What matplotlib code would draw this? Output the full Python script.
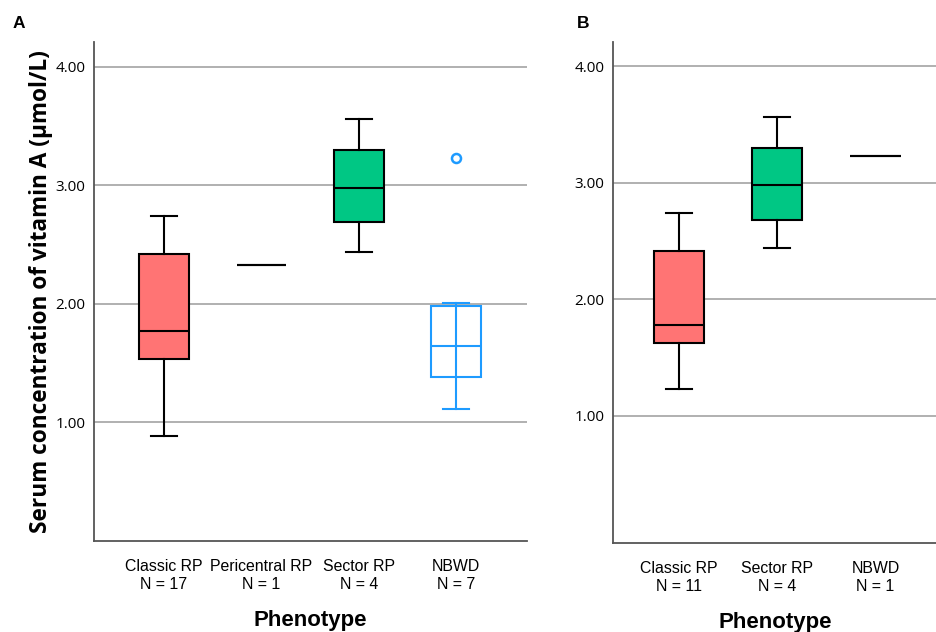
import matplotlib
matplotlib.use("Agg")
import matplotlib.pyplot as plt

# panel A
cats_a = ["Classic RP", "Pericentral RP", "Sector RP", "NBWD"]
n_a = [17, 1, 4, 7]
q1_a = [1.53, 2.33, 2.69, 1.38]
med_a = [1.77, 2.33, 2.98, 1.64]
q3_a = [2.42, 2.33, 3.30, 1.98]
lo_a = [0.88, 2.33, 2.44, 1.11]
hi_a = [2.74, 2.33, 3.56, 2.01]
out_a = [[], [], [], [3.23]]
col_a = ["#FF7474", None, "#00C784", None]
edge_a = ["black", "black", "black", "#1E9BFF"]

# panel B
cats_b = ["Classic RP", "Sector RP", "NBWD"]
n_b = [11, 4, 1]
q1_b = [1.62, 2.68, 3.23]
med_b = [1.78, 2.98, 3.23]
q3_b = [2.41, 3.30, 3.23]
lo_b = [1.23, 2.44, 3.23]
hi_b = [2.74, 3.56, 3.23]
out_b = [[], [], []]
col_b = ["#FF7474", "#00C784", None]
edge_b = ["black", "black", "black"]

yticks = [1.0, 2.0, 3.0, 4.0]

fig = plt.figure(figsize=(9.37, 6.32), dpi=100)
W, H = 937, 632
axA = fig.add_axes([93.7 / W, (H - 540.7) / H, (526.5 - 93.7) / W, (540.7 - 42) / H])
axB = fig.add_axes([613 / W, (H - 542.7) / H, (937 - 613) / W, (542.7 - 41.7) / H])


def draw(ax, cats, n, q1, med, q3, lo, hi, outs, cols, edges):
    stats = []
    for i in range(len(cats)):
        stats.append(dict(q1=q1[i], med=med[i], q3=q3[i], whislo=lo[i],
                          whishi=hi[i], fliers=outs[i], label=cats[i]))
    pos = list(range(1, len(cats) + 1))
    bp = ax.bxp(stats, positions=pos, widths=0.51, patch_artist=True,
                showfliers=True, capwidths=0.27,
                boxprops=dict(linewidth=1.5),
                medianprops=dict(linewidth=1.5),
                whiskerprops=dict(linewidth=1.5),
                capprops=dict(linewidth=1.5),
                flierprops=dict(marker="o", markersize=6.5, markerfacecolor="none",
                                markeredgewidth=1.8))
    for i in range(len(cats)):
        c = edges[i]
        box = bp["boxes"][i]
        box.set_edgecolor(c)
        box.set_facecolor(cols[i] if cols[i] else "none")
        bp["medians"][i].set_color(c)
        bp["fliers"][i].set_markeredgecolor(c)
        w1, w2 = bp["whiskers"][2 * i:2 * i + 2]
        for w in (w1, w2):
            w.set_color(c)
        if cols[i] is None:
            # unfilled box: the whisker line runs straight through it
            w1.set_ydata([med[i], lo[i]])
            w2.set_ydata([med[i], hi[i]])
        for cp in bp["caps"][2 * i:2 * i + 2]:
            cp.set_color(c)
            if q1[i] == q3[i] and lo[i] == hi[i]:
                cp.set_visible(False)
    ax.set_xticks(pos)
    ax.set_xticklabels(["%s\nN = %d" % (c, k) for c, k in zip(cats, n)],
                       fontname="Liberation Sans", fontsize=11.4, linespacing=1.3)
    ax.set_yticks(yticks)
    ax.set_yticklabels(["%.2f" % v for v in yticks], fontname="Open Sans", fontsize=11)
    ax.tick_params(axis="both", length=0)
    ax.tick_params(axis="x", pad=13)
    ax.tick_params(axis="y", pad=6)
    ax.yaxis.grid(True, color="#AAAAAA", linewidth=1.3)
    ax.set_axisbelow(True)
    for s in ["top", "right"]:
        ax.spines[s].set_visible(False)
    for s in ["left", "bottom"]:
        ax.spines[s].set_color("#555555")
        ax.spines[s].set_linewidth(1.3)
    ax.set_xlabel("Phenotype", fontname="Liberation Sans", fontsize=16,
                  fontweight="bold", labelpad=13)


draw(axA, cats_a, n_a, q1_a, med_a, q3_a, lo_a, hi_a, out_a, col_a, edge_a)
draw(axB, cats_b, n_b, q1_b, med_b, q3_b, lo_b, hi_b, out_b, col_b, edge_b)

axA.set_xlim(0.28, 4.72)
axA.set_ylim(0.0, 4.21)
axB.set_xlim(0.33, 3.626)
axB.set_ylim(-0.09, 4.21)

fig.text(41 / W, 1 - 292 / H, "Serum concentration of vitamin A (\u03bcmol/L)",
         rotation=90, ha="center", va="center", fontname="Open Sans",
         fontweight="bold", fontsize=16.3)
fig.text(13 / W, 1 - 24 / H, "A", fontname="Liberation Sans", fontweight="bold",
         fontsize=12.5, va="center", ha="left")
fig.text(577 / W, 1 - 24 / H, "B", fontname="Liberation Sans", fontweight="bold",
         fontsize=12.5, va="center", ha="left")

fig.savefig("out.png", dpi=100)
